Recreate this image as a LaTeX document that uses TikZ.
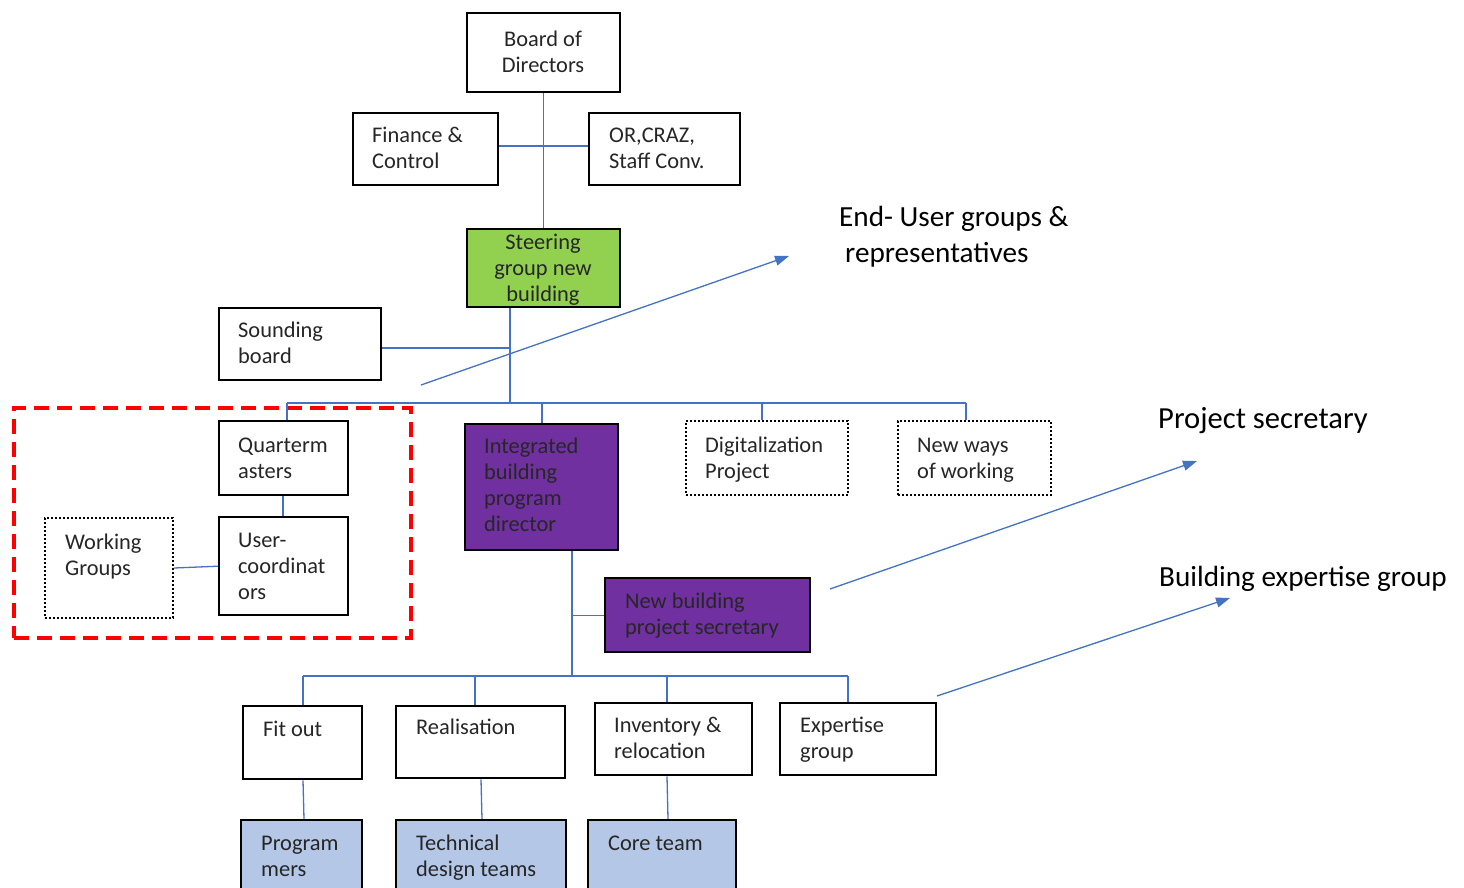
\documentclass[tikz,border=0pt]{standalone}
\usepackage{fontspec}
\setmainfont{Carlito}
\usetikzlibrary{arrows.meta}
\definecolor{lineblue}{HTML}{4472C4}
\definecolor{sgreen}{HTML}{92D050}
\definecolor{spurple}{HTML}{7030A0}
\definecolor{lblue}{HTML}{B4C7E7}
\definecolor{txtc}{HTML}{262626}
\begin{document}
\begin{tikzpicture}[x=1pt,y=-1pt,
  box/.style={draw=black,line width=2.4pt,inner sep=0pt,anchor=north west},
  dotbox/.style={draw=black,line width=2pt,dotted,inner sep=0pt,anchor=north west},
  txt/.style={inner sep=0pt,anchor=north west,align=left,text=txtc,font=\fontsize{22.4}{26}\selectfont},
  ctxt/.style={txt,anchor=north,align=center},
  big/.style={inner sep=0pt,anchor=north west,align=left,text=black,font=\fontsize{29.2}{36}\selectfont},
  conn/.style={draw=lineblue,line width=1.3pt},
  pointer/.style={draw=lineblue,line width=1.3pt,-{Triangle[length=14pt,width=10pt]}}
]
\clip (0,0) rectangle (1464,888);
\fill[white] (0,0) rectangle (1464,888);

% red dashed region
\node[draw=red,line width=4pt,dash pattern=on 15pt off 8pt,inner sep=0pt,anchor=north west,minimum width=397pt,minimum height=230pt] (region) at (12,406) {};

% boxes
\node[box,minimum width=153pt,minimum height=79pt] (board) at (466,12) {};
\node[box,minimum width=145pt,minimum height=72pt] (fin) at (352,112) {};
\node[box,minimum width=151pt,minimum height=72pt] (orc) at (588,112) {};
\node[box,fill=sgreen,minimum width=153pt,minimum height=78pt] (steer) at (466,228) {};
\node[box,minimum width=162pt,minimum height=72pt] (sound) at (218,307) {};
\node[box,minimum width=129pt,minimum height=74pt] (quart) at (218,420) {};
\node[box,minimum width=129pt,minimum height=98pt] (userc) at (218,516) {};
\node[dotbox,minimum width=128pt,minimum height=100pt] (work) at (44,517) {};
\node[box,fill=spurple,minimum width=153pt,minimum height=126pt] (integ) at (464,423) {};
\node[dotbox,minimum width=162pt,minimum height=74pt] (digi) at (685,420) {};
\node[dotbox,minimum width=153pt,minimum height=74pt] (neww) at (897,420) {};
\node[box,fill=spurple,minimum width=205pt,minimum height=74pt] (secr) at (604,577) {};
\node[box,minimum width=119pt,minimum height=73pt] (fit) at (242,705) {};
\node[box,minimum width=169pt,minimum height=72pt] (real) at (395,705) {};
\node[box,minimum width=157pt,minimum height=72pt] (inv) at (594,702) {};
\node[box,minimum width=156pt,minimum height=72pt] (expg) at (779,702) {};
\node[box,fill=lblue,minimum width=121pt,minimum height=90pt] (prog) at (240,819) {};
\node[box,fill=lblue,minimum width=170pt,minimum height=90pt] (tech) at (395,819) {};
\node[box,fill=lblue,minimum width=148pt,minimum height=90pt] (core) at (587,819) {};

% texts
\node[ctxt] (boardT) at (543,28.3) {\strut Board of\\Directors};
\node[txt] (finT) at (372,124.3) {\strut Finance \&\\Control};
\node[txt] (orcT) at (609,124.3) {\strut OR,CRAZ,\\Staff Conv.};
\node[ctxt] (steerT) at (543,231.3) {\strut Steering\\group new\\building};
\node[txt] (soundT) at (238,319.3) {\strut Sounding\\board};
\node[txt] (quartT) at (238,434.3) {\strut Quarterm\\asters};
\node[txt] (usercT) at (238,529.3) {\strut User-\\coordinat\\ors};
\node[txt] (workT) at (65,531.3) {\strut Working\\Groups};
\node[txt] (integT) at (484,435.3) {\strut Integrated\\building\\program\\director};
\node[txt] (digiT) at (705,434.3) {\strut Digitalization\\Project};
\node[txt] (newwT) at (917,434.3) {\strut New ways\\of working};
\node[txt] (secrT) at (625,590.3) {\strut New building\\project secretary};
\node[txt] (fitT) at (263,718.3) {\strut Fit out};
\node[txt] (realT) at (416,716.3) {\strut Realisation};
\node[txt] (invT) at (614,714.3) {\strut Inventory \&\\relocation};
\node[txt] (expgT) at (800,714.3) {\strut Expertise\\group};
\node[txt] (progT) at (261,832.3) {\strut Program\\mers};
\node[txt] (techT) at (416,832.3) {\strut Technical\\design teams};
\node[txt] (coreT) at (608,832.3) {\strut Core team};

% side labels
\node[big] (endu) at (839,200.8) {\strut End- User groups \&\\\hspace*{6pt}representatives};
\node[big,font=\fontsize{30.6}{36}\selectfont] (projs) at (1158,402.8) {\strut Project secretary};
\node[big] (bexp) at (1159,560.8) {\strut Building expertise group};

% connector coordinates
\coordinate (j0) at (543,146);
\coordinate (js) at (510,348);
\coordinate (j1) at (510,403);
\coordinate (b1L) at (287,403);
\coordinate (b1R) at (966,403);
\coordinate (j2) at (572,676);
\coordinate (b2L) at (303,676);
\coordinate (b2R) at (848,676);
\coordinate (a1s) at (421,385);
\coordinate (a1e) at (789,256);
\coordinate (a2s) at (830,589);
\coordinate (a2e) at (1197,461);
\coordinate (a3s) at (937,696);
\coordinate (a3e) at (1230,598);

% connectors
\draw[conn] (board.south) -- (steer.north);
\draw[conn] (fin.east |- j0) -- (orc.west |- j0);
\draw[conn] (steer.south -| j1) -- (j1);
\draw[conn] (sound.east |- js) -- (js);
\draw[conn] (b1L) -- (b1R);
\draw[conn] (b1L) -- (quart.north -| b1L);
\draw[conn] (integ.north -| 542,0) -- (542,403);
\draw[conn] (digi.north -| 762,0) -- (762,403);
\draw[conn] (b1R) -- (neww.north -| b1R);
\draw[conn] (quart.south -| 283,0) -- (userc.north -| 283,0);
\draw[conn] (work.east) -- (userc.west);
\draw[conn] (integ.south -| j2) -- (j2);
\draw[conn] (secr.west) -- (secr.west -| j2);
\draw[conn] (b2L) -- (b2R);
\draw[conn] (b2L) -- (fit.north -| b2L);
\draw[conn] (475,676) -- (real.north -| 475,0);
\draw[conn] (667,676) -- (inv.north -| 667,0);
\draw[conn] (b2R) -- (expg.north -| b2R);
\draw[conn] (fit.south -| 303,0) -- (prog.north -| 304,0);
\draw[conn] (real.south -| 481,0) -- (tech.north -| 482,0);
\draw[conn] (inv.south -| 667,0) -- (core.north -| 668,0);

% pointers
\draw[pointer] (a1s) -- (a1e);
\draw[pointer] (a2s) -- (a2e);
\draw[pointer] (a3s) -- (a3e);
\end{tikzpicture}
\end{document}
